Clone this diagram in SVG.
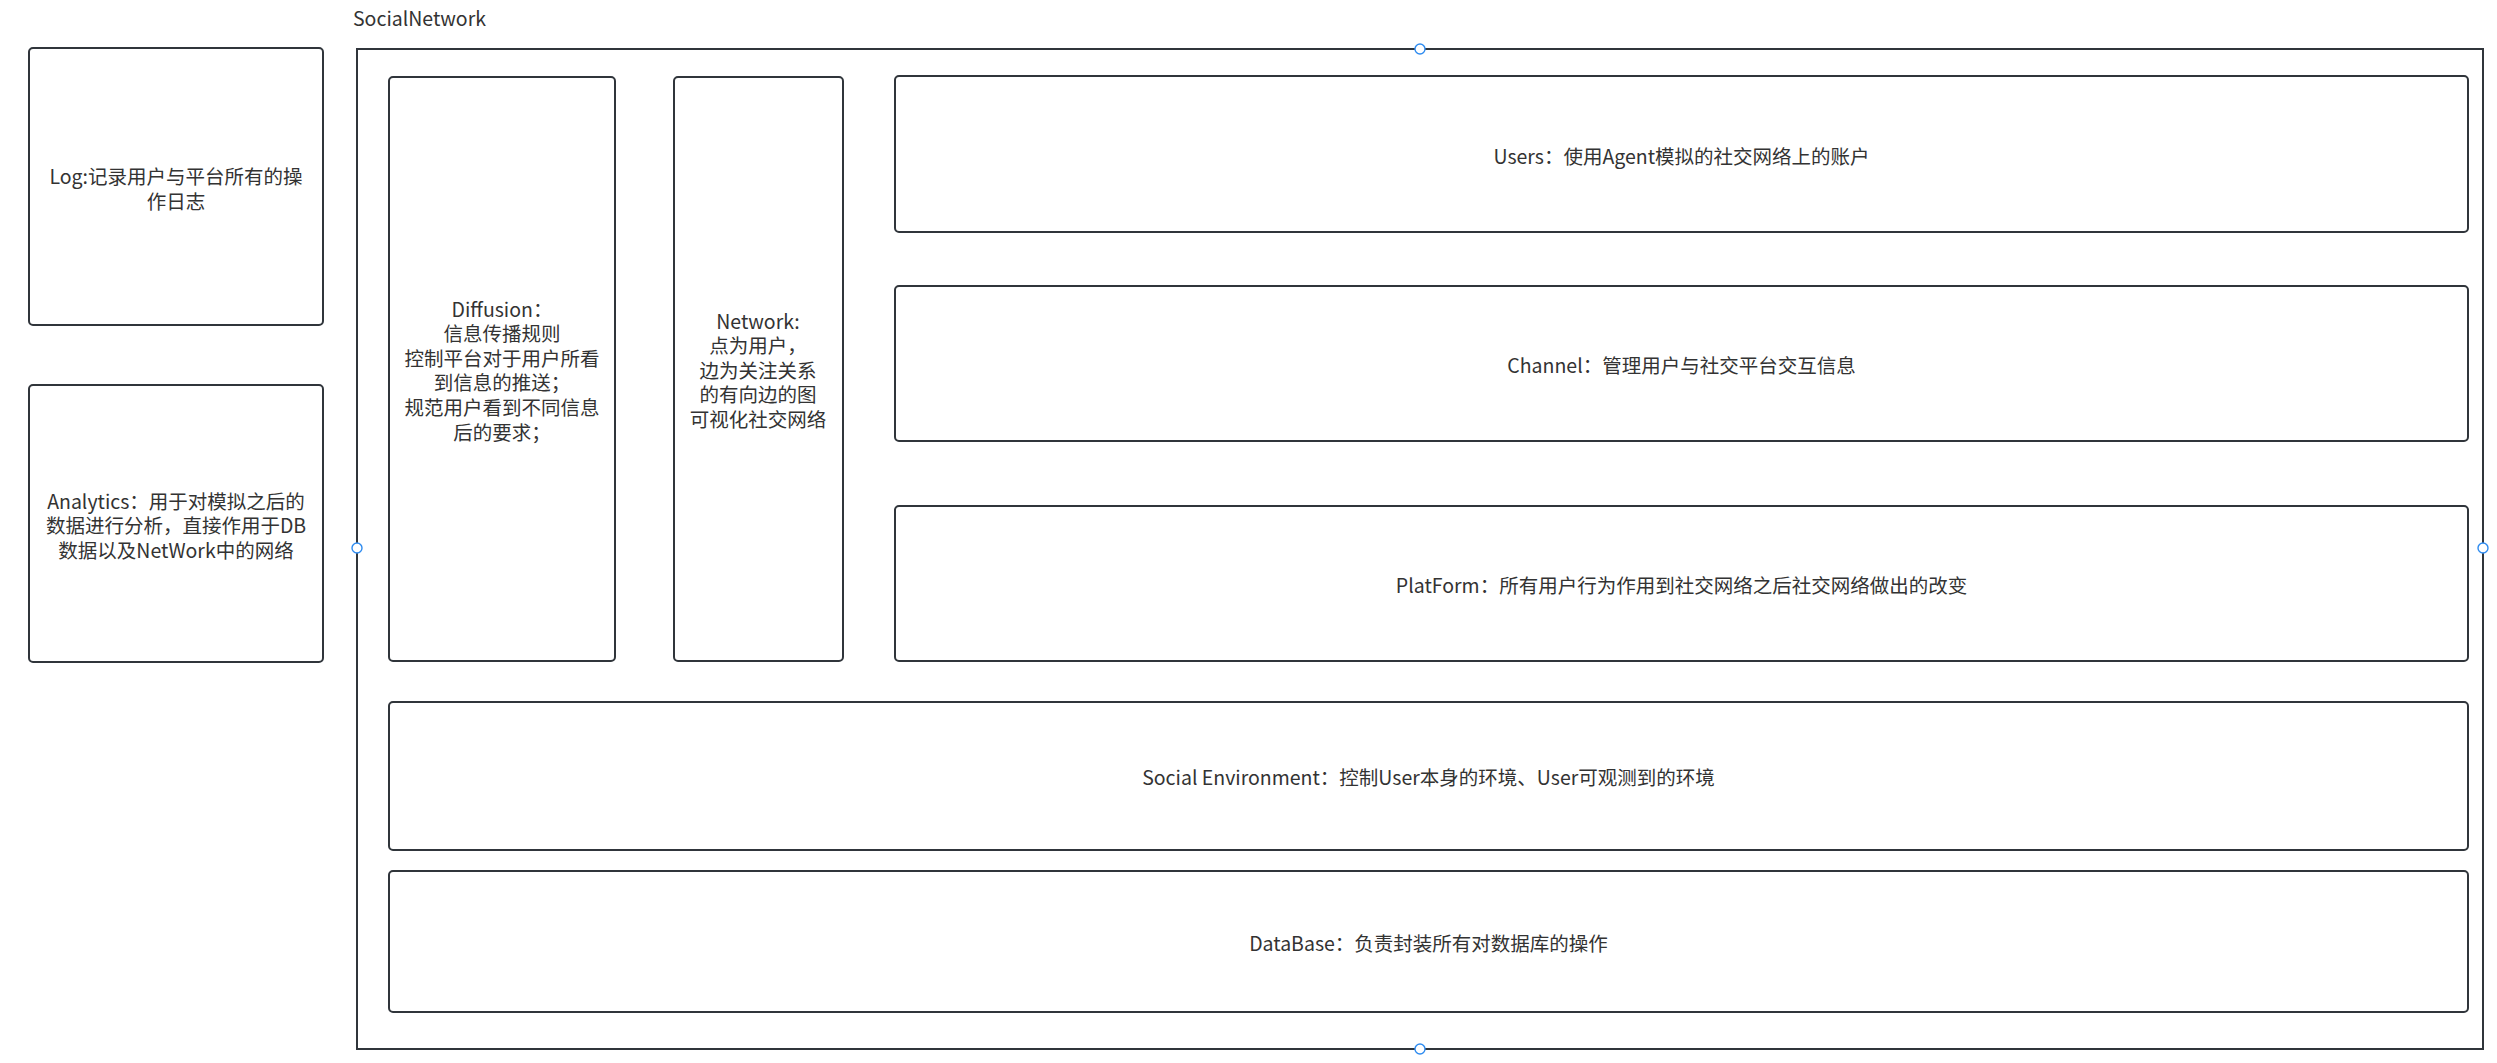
<svg xmlns="http://www.w3.org/2000/svg" width="2497" height="1063" viewBox="0 0 2497 1063">
<style>
.box{fill:#fff;stroke:#30353b;stroke-width:2}
.frame{fill:none;stroke:#30353b;stroke-width:2}
.t{font-family:"Noto Sans CJK SC","Microsoft YaHei",sans-serif;font-size:19.5px;fill:#333;text-anchor:middle;dominant-baseline:central}
.lbl{font-family:"Noto Sans CJK SC","Microsoft YaHei",sans-serif;font-size:19.5px;fill:#333}
.pt{fill:#fff;stroke:#2f8cf0;stroke-width:1.4}
</style>
<rect width="2497" height="1063" fill="#fff"/>
<g id="SocialNetwork">
<rect class="frame" x="357" y="49" width="2126" height="1000"/>
<text class="lbl" x="353" y="26">SocialNetwork</text>
</g>
<g id="Log">
<rect class="box" x="29" y="48" width="294" height="277" rx="4"/>
<text class="t" x="176" y="175.5">Log:记录用户与平台所有的操</text>
<text class="t" x="176" y="200.5">作日志</text>
</g>
<g id="Analytics">
<rect class="box" x="29" y="385" width="294" height="277" rx="4"/>
<text class="t" x="176" y="500">Analytics：用于对模拟之后的</text>
<text class="t" x="176" y="524.5">数据进行分析，直接作用于DB</text>
<text class="t" x="176" y="549">数据以及NetWork中的网络</text>
</g>
<g id="Diffusion">
<rect class="box" x="389" y="77" width="226" height="584" rx="4"/>
<text class="t" x="502" y="308">Diffusion：</text>
<text class="t" x="502" y="332.6">信息传播规则</text>
<text class="t" x="502" y="357.2">控制平台对于用户所看</text>
<text class="t" x="502" y="381.8">到信息的推送；</text>
<text class="t" x="502" y="406.4">规范用户看到不同信息</text>
<text class="t" x="502" y="431">后的要求；</text>
</g>
<g id="Network">
<rect class="box" x="674" y="77" width="169" height="584" rx="4"/>
<text class="t" x="758" y="320">Network:</text>
<text class="t" x="758" y="344.5">点为用户，</text>
<text class="t" x="758" y="369">边为关注关系</text>
<text class="t" x="758" y="393.5">的有向边的图</text>
<text class="t" x="758" y="418">可视化社交网络</text>
</g>
<g id="Users">
<rect class="box" x="895" y="76" width="1573" height="156" rx="4"/>
<text class="t" x="1681.5" y="155">Users：使用Agent模拟的社交网络上的账户</text>
</g>
<g id="Channel">
<rect class="box" x="895" y="286" width="1573" height="155" rx="4"/>
<text class="t" x="1681.5" y="364.5">Channel：管理用户与社交平台交互信息</text>
</g>
<g id="PlatForm">
<rect class="box" x="895" y="506" width="1573" height="155" rx="4"/>
<text class="t" x="1681.5" y="584.5">PlatForm：所有用户行为作用到社交网络之后社交网络做出的改变</text>
</g>
<g id="SocialEnvironment">
<rect class="box" x="389" y="702" width="2079" height="148" rx="4"/>
<text class="t" x="1428.5" y="776.5">Social Environment：控制User本身的环境、User可观测到的环境</text>
</g>
<g id="DataBase">
<rect class="box" x="389" y="871" width="2079" height="141" rx="4"/>
<text class="t" x="1428.5" y="942">DataBase：负责封装所有对数据库的操作</text>
</g>
<g id="connectors"></g>
<g id="anchors">
<circle class="pt" cx="1420" cy="49" r="5"/>
<circle class="pt" cx="1420" cy="1049" r="5"/>
<circle class="pt" cx="357" cy="548" r="5"/>
<circle class="pt" cx="2483" cy="548" r="5"/>
</g>
</svg>
